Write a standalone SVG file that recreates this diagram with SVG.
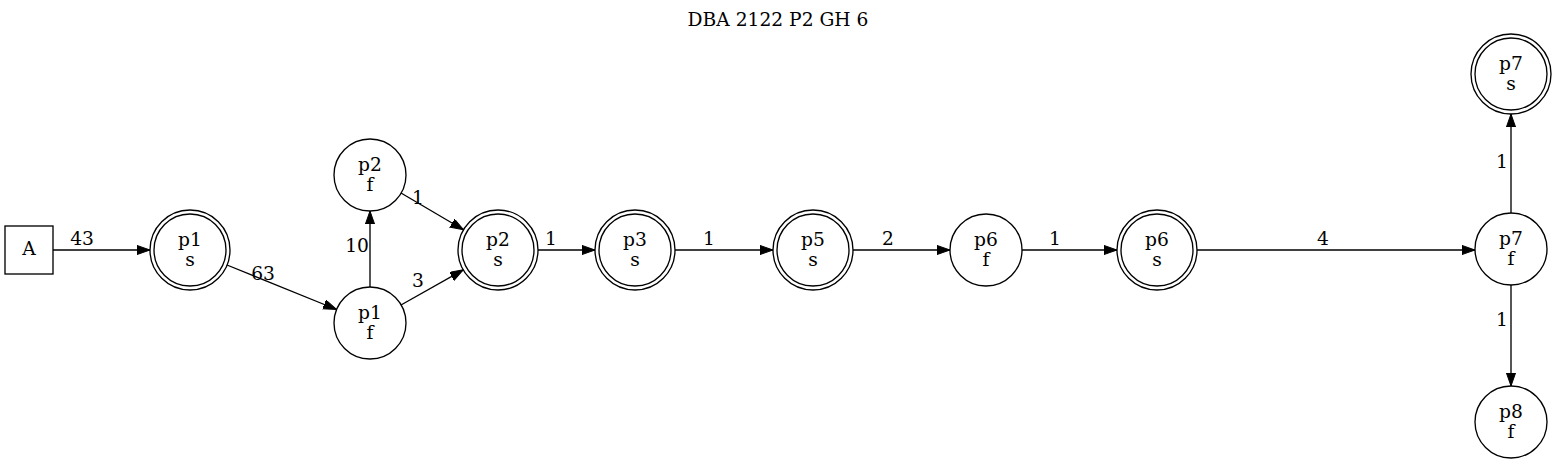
<svg xmlns="http://www.w3.org/2000/svg" width="1557" height="464" viewBox="0 0 1557 464">
<style>
text{font-family:"DejaVu Serif","Liberation Serif",serif;font-size:18.67px;fill:#000;text-anchor:middle}
.n{fill:#fff;stroke:#000;stroke-width:1.33}
.e{fill:none;stroke:#000;stroke-width:1.33;marker-end:url(#ah)}
</style>
<defs>
<marker id="ah" markerUnits="userSpaceOnUse" markerWidth="14" markerHeight="10" refX="13.3" refY="4.67" orient="auto">
<path d="M0,0 L13.3,4.67 L0,9.33 z" fill="#000" stroke="#000" stroke-width="1"/>
</marker>
</defs>
<rect width="1557" height="464" fill="#fff"/>
<text x="778" y="25.5">DBA 2122 P2 GH 6</text>
<g id="edges">
<line class="e" x1="53" y1="250" x2="150" y2="250"/>
<line class="e" x1="227" y1="265" x2="336.6" y2="309.5"/>
<line class="e" x1="370" y1="287" x2="370" y2="211"/>
<line class="e" x1="401" y1="305" x2="463.3" y2="269.8"/>
<line class="e" x1="401" y1="193" x2="463.5" y2="229.8"/>
<line class="e" x1="538" y1="250" x2="595" y2="250"/>
<line class="e" x1="675" y1="250" x2="773" y2="250"/>
<line class="e" x1="853" y1="250" x2="950" y2="250"/>
<line class="e" x1="1022" y1="250" x2="1117" y2="250"/>
<line class="e" x1="1197" y1="250" x2="1475" y2="250"/>
<line class="e" x1="1511" y1="213" x2="1511" y2="114"/>
<line class="e" x1="1511" y1="285" x2="1511" y2="386"/>
<text x="82" y="245">43</text>
<text x="263" y="280">63</text>
<text x="357" y="252">10</text>
<text x="418" y="287">3</text>
<text x="418" y="204">1</text>
<text x="551" y="245">1</text>
<text x="709" y="245">1</text>
<text x="888" y="245">2</text>
<text x="1055" y="245">1</text>
<text x="1323" y="245">4</text>
<text x="1502" y="168">1</text>
<text x="1502" y="326">1</text>
</g>
<g id="A"><rect class="n" x="5" y="226" width="48" height="48"/><text x="29" y="255">A</text></g>
<g id="p1s"><circle class="n" cx="190" cy="250" r="40"/><circle class="n" cx="190" cy="250" r="36"/><text x="190" y="245.5">p1</text><text x="190" y="265.5">s</text></g>
<g id="p2f"><circle class="n" cx="370" cy="175" r="36"/><text x="370" y="170.5">p2</text><text x="370" y="190.5">f</text></g>
<g id="p1f"><circle class="n" cx="370" cy="323" r="36"/><text x="370" y="318.5">p1</text><text x="370" y="338.5">f</text></g>
<g id="p2s"><circle class="n" cx="498" cy="250" r="40"/><circle class="n" cx="498" cy="250" r="36"/><text x="498" y="245.5">p2</text><text x="498" y="265.5">s</text></g>
<g id="p3s"><circle class="n" cx="635" cy="250" r="40"/><circle class="n" cx="635" cy="250" r="36"/><text x="635" y="245.5">p3</text><text x="635" y="265.5">s</text></g>
<g id="p5s"><circle class="n" cx="813" cy="250" r="40"/><circle class="n" cx="813" cy="250" r="36"/><text x="813" y="245.5">p5</text><text x="813" y="265.5">s</text></g>
<g id="p6f"><circle class="n" cx="986" cy="250" r="36"/><text x="986" y="245.5">p6</text><text x="986" y="265.5">f</text></g>
<g id="p6s"><circle class="n" cx="1157" cy="250" r="40"/><circle class="n" cx="1157" cy="250" r="36"/><text x="1157" y="245.5">p6</text><text x="1157" y="265.5">s</text></g>
<g id="p7f"><circle class="n" cx="1511" cy="249" r="36"/><text x="1511" y="244.5">p7</text><text x="1511" y="264.5">f</text></g>
<g id="p7s"><circle class="n" cx="1511" cy="74" r="40"/><circle class="n" cx="1511" cy="74" r="36"/><text x="1511" y="69.5">p7</text><text x="1511" y="89.5">s</text></g>
<g id="p8f"><circle class="n" cx="1511" cy="422" r="36"/><text x="1511" y="417.5">p8</text><text x="1511" y="437.5">f</text></g>
</svg>
